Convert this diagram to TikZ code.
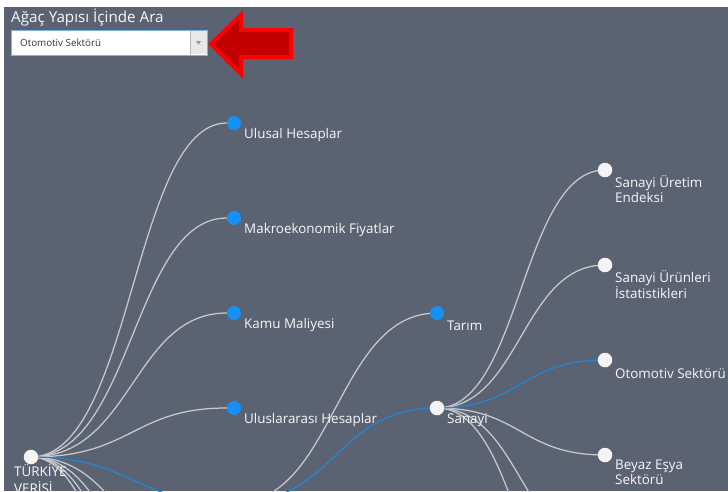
\documentclass[tikz,border=0pt]{standalone}
\usepackage{fontspec}
\setmainfont{Open Sans}
\usetikzlibrary{calc}
\pgfdeclarelayer{bg}
\pgfsetlayers{bg,main}
\definecolor{bgc}{HTML}{5B6271}
\definecolor{edgegray}{HTML}{C8C9CC}
\definecolor{edgeblue}{HTML}{2286D6}
\definecolor{nodeblue}{HTML}{1690F5}
\definecolor{nodewhite}{HTML}{F4F4F5}
\definecolor{txt}{HTML}{F7F8FA}
\definecolor{arrowfill}{HTML}{C20000}
\definecolor{arrowline}{HTML}{FF0000}
\definecolor{boxline}{HTML}{86AEE0}
\tikzset{
  wdot/.style={circle, fill=nodewhite, minimum size=14.5pt, inner sep=0pt},
  bdot/.style={circle, fill=nodeblue, minimum size=14pt, inner sep=0pt},
  lbl/.style={anchor=west, text=txt, font=\fontsize{13.4}{15}\selectfont, inner sep=0pt},
  lbl2/.style={anchor=north west, text=txt, font=\fontsize{13.4}{15}\selectfont, inner sep=0pt, align=left},
  ge/.style={draw=edgegray, line width=1.25pt},
  be/.style={draw=edgeblue, line width=1.25pt},
}
\begin{document}
\begin{tikzpicture}[x=1pt,y=-1pt]
\useasboundingbox (0,0) rectangle (728,491);
\clip (0,0) rectangle (728,491);
\begin{pgfonlayer}{bg}
  \fill[white] (0,0) rectangle (728,491);
  \fill[bgc] (4,7) rectangle (728,491);
\end{pgfonlayer}

% nodes
\node[wdot] (root) at (31,457) {};
\node[bdot] (ulusal) at (234,123) {};
\node[bdot] (makro) at (234,218) {};
\node[bdot] (kamu) at (234,313) {};
\node[bdot] (ulusl) at (234,408) {};
\coordinate (ekon) at (234,503);
\coordinate (h1) at (234,598);
\coordinate (h2) at (234,693);
\coordinate (h3) at (234,788);
\coordinate (h4) at (234,883);
\node[bdot] (tarim) at (437,313) {};
\node[wdot] (sanayi) at (437,408) {};
\node[wdot] (uretim) at (605,170) {};
\node[wdot] (urun) at (605,265) {};
\node[wdot] (otomotiv) at (605,360) {};
\node[wdot] (beyaz) at (605,455) {};
\coordinate (s5) at (605,550);
\coordinate (s6) at (605,645);

% labels
\node[lbl2, font=\fontsize{13.4}{17.5}\selectfont] (lroot) at (14,464) {TÜRKİYE\\VERİSİ};
\node[lbl] (lulusal) at (244,135.5) {Ulusal Hesaplar};
\node[lbl] (lmakro) at (244,230.5) {Makroekonomik Fiyatlar};
\node[lbl] (lkamu) at (244,325.5) {Kamu Maliyesi};
\node[lbl] (lulusl) at (244,420.5) {Uluslararası Hesaplar};
\node[lbl] (ltarim) at (447,325.5) {Tarım};
\node[lbl] (lsanayi) at (447,420.5) {Sanayi};
\node[lbl2] (luretim) at (615,175) {Sanayi Üretim\\Endeksi};
\node[lbl2] (lurun) at (615,270) {Sanayi Ürünleri\\İstatistikleri};
\node[lbl] (lotomotiv) at (615,373.5) {Otomotiv Sektörü};
\node[lbl2] (lbeyaz) at (615,460) {Beyaz Eşya\\Sektörü};

% edges
\begin{pgfonlayer}{bg}
  \foreach \t in {ulusal,makro,kamu,ulusl,h1,h2,h3,h4}
    \draw[ge] (root.center) .. controls +(101.5,0) and +(-101.5,0) .. (\t);
  \draw[be] (root.center) .. controls +(101.5,0) and +(-101.5,0) .. (ekon);
  \draw[ge] (ekon) .. controls +(101.5,0) and +(-101.5,0) .. (tarim.center);
  \draw[be] (ekon) .. controls +(101.5,0) and +(-101.5,0) .. (sanayi.center);
  \foreach \t in {uretim,urun,beyaz}
    \draw[ge] (sanayi.center) .. controls +(84,0) and +(-84,0) .. (\t.center);
  \foreach \t in {s5,s6}
    \draw[ge] (sanayi.center) .. controls +(84,0) and +(-84,0) .. (\t);
  \draw[be] (sanayi.center) .. controls +(84,0) and +(-84,0) .. (otomotiv.center);
\end{pgfonlayer}

% search title and dropdown
\node[anchor=west, text=txt, font=\fontsize{15.2}{18}\selectfont, inner sep=0pt] (title) at (11,17) {Ağaç Yapısı İçinde Ara};
\node[draw=boxline, fill=white, line width=0.9pt, minimum width=196pt, minimum height=25pt, inner sep=0pt, anchor=north west] (box) at (11,30) {};
\node[fill=gray!18, minimum width=17pt, minimum height=23.5pt, inner sep=0pt, anchor=north east] (btn) at ($(box.north east)+(-0.6,0.7)$) {};
\draw[gray!55, line width=0.6pt] (btn.north west) -- (btn.south west);
\fill[gray!80] ($(btn.center)+(-2.5,-1.5)$) -- ($(btn.center)+(2.5,-1.5)$) -- ($(btn.center)+(0,2)$) -- cycle;
\node[anchor=west, text=black!80, font=\fontsize{9.8}{12}\selectfont, inner sep=0pt] (dtext) at (20,43) {Otomotiv Sektörü};

% red arrow
\draw[draw=arrowline, fill=arrowfill, line width=4pt, line join=miter]
  (211,44) -- (241,15) -- (241,30) -- (291,30) -- (291,57) -- (241,57) -- (241,74) -- cycle;
\end{tikzpicture}
\end{document}
